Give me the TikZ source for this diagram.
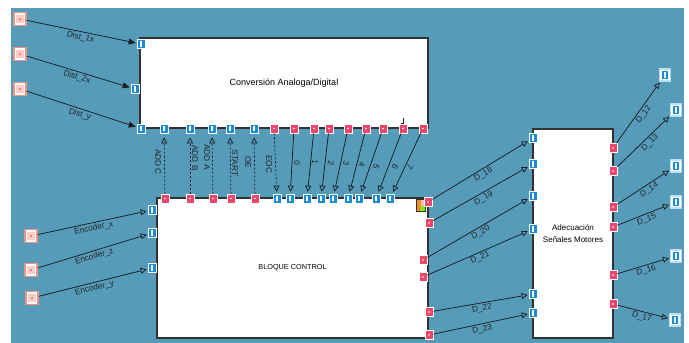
\documentclass[tikz,border=0pt]{standalone}
\usepackage{fontspec}
\setmainfont{Liberation Sans}
\usetikzlibrary{arrows.meta}
\definecolor{bgteal}{RGB}{86,156,186}
\definecolor{pblue}{RGB}{24,140,214}
\definecolor{pred}{RGB}{238,70,106}
\definecolor{salmon}{RGB}{244,146,128}
\definecolor{pinkfill}{RGB}{250,205,198}
\definecolor{lblue}{RGB}{190,222,242}
\definecolor{boxline}{RGB}{50,50,50}
\definecolor{wirec}{RGB}{25,30,35}
\begin{document}
\begin{tikzpicture}[x=1pt,y=-1pt,
  inport/.style={rectangle,draw=white,line width=0.7pt,fill=pblue,minimum width=8pt,minimum height=9pt,inner sep=0pt,
    path picture={\fill[white] ([xshift=-0.9pt,yshift=-2.6pt]path picture bounding box.center) rectangle ([xshift=0.9pt,yshift=2.6pt]path picture bounding box.center);}},
  outport/.style={rectangle,draw=white,line width=0.7pt,fill=pred,minimum width=8pt,minimum height=9pt,inner sep=0pt,
    path picture={\fill[white] (path picture bounding box.center) circle (0.9pt);}},
  srcport/.style={rectangle,draw=salmon,line width=1.4pt,fill=white,minimum width=12pt,minimum height=13pt,inner sep=0pt,
    path picture={\fill[pinkfill] ([xshift=-3.6pt,yshift=-4.1pt]path picture bounding box.center) rectangle ([xshift=3.6pt,yshift=4.1pt]path picture bounding box.center);
      \fill[pred] (path picture bounding box.center) circle (1pt);}},
  dstport/.style={rectangle,draw=lblue,line width=1.2pt,fill=white,minimum width=11pt,minimum height=12pt,inner sep=0pt,
    path picture={\fill[pblue] ([xshift=-3.3pt,yshift=-4pt]path picture bounding box.center) rectangle ([xshift=3.3pt,yshift=4pt]path picture bounding box.center);
      \fill[white] ([xshift=-1pt,yshift=-2.8pt]path picture bounding box.center) rectangle ([xshift=1pt,yshift=2.8pt]path picture bounding box.center);}},
  block/.style={rectangle,draw=boxline,line width=1.2pt,fill=white,inner sep=0pt,font=\fontsize{9}{11}\selectfont},
  wire/.style={draw=wirec,line width=0.75pt},
  oarrow/.style={wire,-{Triangle[open,length=6pt,width=6pt]},shorten >=1pt},
  farrow/.style={wire,-{Triangle[length=7pt,width=6pt]},shorten >=1pt},
  dashwire/.style={oarrow,dash pattern=on 2pt off 2pt},
  lbl/.style={font=\fontsize{8.3}{10}\selectfont,inner sep=1.2pt,text=black!85},
  slbl/.style={lbl,sloped,below=0.3pt}
]
\useasboundingbox (0,0) rectangle (689,343);
\fill[white] (0,0) rectangle (689,343);
\fill[bgteal] (11,8) rectangle (684,343);

% blocks
\node[block,minimum width=288pt,minimum height=90pt] (adc) at (284,83) {Conversión Analoga/Digital};
\node[block,minimum width=271pt,minimum height=140pt,font=\fontsize{7.3}{9}\selectfont] (ctrl) at (292.5,268) {BLOQUE CONTROL};
\node[block,minimum width=80pt,minimum height=209pt,align=center,font=\fontsize{8}{12}\selectfont] (mot) at (573,233.5) {Adecuación\\Señales Motores};

% icon
\node[rectangle,draw=boxline,line width=0.6pt,minimum width=9pt,minimum height=12pt,inner sep=0pt,
  path picture={\fill[orange!80!pink] (path picture bounding box.north west) rectangle (path picture bounding box.south);
    \fill[green!60!yellow] (path picture bounding box.center) rectangle (path picture bounding box.south east);
    \fill[pink] (path picture bounding box.center) rectangle (path picture bounding box.north east);}] (icon) at (421,205.5) {};

% sources
\node[srcport] (s1) at (20,19) {};
\node[srcport] (s2) at (20,54) {};
\node[srcport] (s3) at (20,89) {};
\node[srcport] (e1) at (31,236) {};
\node[srcport] (e2) at (31,270) {};
\node[srcport] (e3) at (32,298) {};

% ADC ports
\node[inport] (p1) at (141,44) {};
\node[inport] (p2) at (135,89) {};
\node[inport] (ti0) at (141,128.5) {};
\foreach \n/\x in {1/164,2/190,3/212,4/230,5/254} \node[inport] (ti\n) at (\x,128.5) {};
\foreach \n/\x in {0/274,1/294,2/314,3/329,4/348,5/366,6/383,7/403,8/423} \node[outport] (to\n) at (\x,128.5) {};

% control ports
\foreach \n/\x in {1/165,2/190,3/213,4/231,5/255} \node[outport] (bo\n) at (\x,198.5) {};
\foreach \n/\x in {0/277,1/290,2/307,3/321,4/333,5/348,6/359,7/376,8/390} \node[inport] (bi\n) at (\x,198.5) {};
\node[inport] (li1) at (152,210) {};
\node[inport] (li2) at (152,233) {};
\node[inport] (li3) at (152,268) {};
\node[outport] (ro1) at (428,202) {};
\node[outport] (ro2) at (429,223) {};
\node[outport] (ro3) at (423,260) {};
\node[outport] (ro4) at (423,277) {};
\node[outport] (ro5) at (429,312) {};
\node[outport] (ro6) at (429,335) {};

% motor ports
\foreach \n/\y in {1/138,2/164,3/196,4/229,5/294,6/313} \node[inport] (ri\n) at (533,\y) {};
\foreach \n/\y in {1/148,2/171,3/207,4/227,5/275,6/304} \node[outport] (rr\n) at (613,\y) {};
\node[dstport] (t1) at (665,75) {};
\node[dstport] (t2) at (676,110) {};
\node[dstport] (t3) at (676,166) {};
\node[dstport] (t4) at (676,202) {};
\node[dstport] (t5) at (676,256) {};
\node[dstport] (t6) at (675,320) {};

% left inputs
\draw[farrow] (s1) -- node[slbl] (ld1) {Dist\_1x} (p1);
\draw[farrow] (s2) -- node[slbl] (ld2) {Dist\_2x} (p2);
\draw[farrow] (s3) -- node[slbl] (ld3) {Dist\_y} (ti0);
\draw[oarrow] (e1) -- node[slbl] (le1) {Encoder\_x} (li1);
\draw[oarrow] (e2) -- node[slbl] (le2) {Encoder\_z} (li2);
\draw[oarrow] (e3) -- node[slbl] (le3) {Encoder\_y} (li3);

% control -> adc
\foreach \n in {1,...,5} \draw[dashwire,shorten >=4pt] (bo\n) -- (ti\n);
\draw[dashwire,shorten >=2pt] (to0) -- (bi0);
\foreach \n in {1,...,8} \draw[oarrow,shorten >=2pt] (to\n) -- (bi\n);
\draw[wire,line width=0.6pt] ([xshift=-2pt]to7.north) -- (to7.north) -- ++(0,-6);

\node[lbl,rotate=-90] (la1) at (158,162) {ADD C};
\node[lbl,rotate=-90] (la2) at (195,158) {ADD B};
\node[lbl,rotate=-90] (la3) at (207,157) {ADD A};
\node[lbl,rotate=-90] (la4) at (235,163) {START};
\node[lbl,rotate=-90] (la5) at (248,162) {OE};
\node[lbl,rotate=-90] (la6) at (269,164) {EOC};
\node[lbl,rotate=-94] (ln0) at (297,163) {0};
\node[lbl,rotate=-97] (ln1) at (315,162) {1};
\node[lbl,rotate=-98] (ln2) at (331,163) {2};
\node[lbl,rotate=-104] (ln3) at (346,163) {3};
\node[lbl,rotate=-107] (ln4) at (362,165) {4};
\node[lbl,rotate=-112] (ln5) at (376,167) {5};
\node[lbl,rotate=-115] (ln6) at (395,167) {6};
\node[lbl,rotate=-119] (ln7) at (410,167) {7};

% control -> motors
\draw[oarrow] (ro1) -- node[slbl] (l18) {D\_18} (ri1);
\draw[oarrow] (ro2) -- node[slbl] (l19) {D\_19} (ri2);
\draw[oarrow] (ro3) -- node[slbl] (l20) {D\_20} (ri3);
\draw[oarrow] (ro4) -- node[slbl] (l21) {D\_21} (ri4);
\draw[oarrow] (ro5) -- node[slbl] (l22) {D\_22} (ri5);
\draw[oarrow] (ro6) -- node[slbl] (l23) {D\_23} (ri6);

% motors -> outputs
\draw[oarrow] (rr1) -- node[slbl,pos=0.52] (l12) {D\_12} (t1);
\draw[oarrow] (rr2) -- node[slbl,pos=0.55] (l13) {D\_13} (t2);
\draw[oarrow] (rr3) -- node[slbl,pos=0.55] (l14) {D\_14} (t3);
\draw[oarrow] (rr4) -- node[slbl,pos=0.52] (l15) {D\_15} (t4);
\draw[oarrow] (rr5) -- node[slbl,pos=0.52] (l16) {D\_16} (t5);
\draw[oarrow] (rr6) -- node[slbl,pos=0.5] (l17) {D\_17} (t6);

% redraw ports on top of wires
\foreach \n in {1,...,5} {\node[inport] at (ti\n) {}; \node[outport] at (bo\n) {};}
\end{tikzpicture}
\end{document}
